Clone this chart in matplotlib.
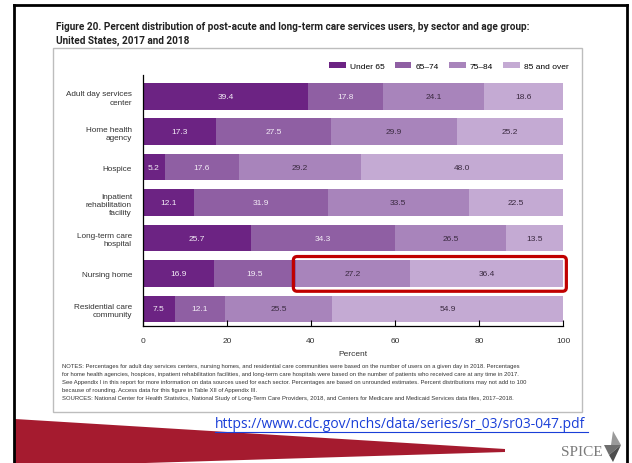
import matplotlib
matplotlib.use("Agg")
import matplotlib.pyplot as plt
from matplotlib.patches import Polygon, Rectangle, FancyBboxPatch

W, H = 632, 464

# data
categories = ["Adult day services\ncenter", "Home health\nagency", "Hospice",
              "Inpatient\nrehabilitation\nfacility", "Long-term care\nhospital",
              "Nursing home", "Residential care\ncommunity"]
age_groups = ["Under 65", "65\u201374", "75\u201384", "85 and over"]
under_65 = [39.4, 17.3, 5.2, 12.1, 25.7, 16.9, 7.5]
age_65_74 = [17.8, 27.5, 17.6, 31.9, 34.3, 19.5, 12.1]
age_75_84 = [24.1, 29.9, 29.2, 33.5, 26.5, 27.2, 25.5]
age_85_up = [18.6, 25.2, 48.0, 22.5, 13.5, 36.4, 54.9]
x_ticks = [0, 20, 40, 60, 80, 100]

title = ("Figure 20. Percent distribution of post-acute and long-term care services users, by sector and age group:\n"
         "United States, 2017 and 2018")
notes = [
    "NOTES: Percentages for adult day services centers, nursing homes, and residential care communities were based on the number of users on a given day in 2018. Percentages",
    "for home health agencies, hospices, inpatient rehabilitation facilities, and long-term care hospitals were based on the number of patients who received care at any time in 2017.",
    "See Appendix I in this report for more information on data sources used for each sector. Percentages are based on unrounded estimates. Percent distributions may not add to 100",
    "because of rounding. Access data for this figure in Table XII of Appendix III.",
    "SOURCES: National Center for Health Statistics, National Study of Long-Term Care Providers, 2018, and Centers for Medicare and Medicaid Services data files, 2017\u20132018.",
]
url = "https://www.cdc.gov/nchs/data/series/sr_03/sr03-047.pdf"

colors = ["#6c2383", "#8f5fa3", "#a884bb", "#c4aad3"]
label_colors = ["#f3ecf6", "#f3ecf6", "#3a2a40", "#3a2a40"]
sans = ["Liberation Sans", "DejaVu Sans"]

fig = plt.figure(figsize=(W / 100, H / 100), dpi=100)

# background layer in pixel coordinates
bg = fig.add_axes([0, 0, 1, 1], zorder=0)
bg.set_xlim(0, W)
bg.set_ylim(H, 0)
bg.axis("off")

# slide frame
bg.plot([14, 14], [6, H], color="black", lw=2)
bg.plot([14, 627], [6, 6], color="black", lw=2)
bg.plot([627, 627], [6, H], color="black", lw=2)

# figure box
bg.add_patch(Rectangle((53, 49), 529, 364, fill=False, ec="#bdbdbd", lw=1))

bg.text(56, 34, title, fontsize=7.2, fontweight="bold", color="#222222",
        family=["Roboto", "DejaVu Sans"], va="center", linespacing=1.4)

for i, line in enumerate(notes):
    bg.text(62, 367 + i * 8, line, fontsize=4.25, color="#333333", family=sans, va="center")

# red wedge
bg.add_patch(Polygon([(15, 420), (505, 450), (505, 453), (15, 468)], closed=True,
                     fc="#a51b2f", ec="none"))

bg.text(215, 425, url, fontsize=10, color="#1a3fd8", family=["Open Sans", "DejaVu Sans"],
        va="center")
bg.plot([215, 588], [433, 433], color="#1a3fd8", lw=0.8)

# SPICE logo
bg.text(561, 453, "SPICE", fontsize=11, color="#7b7b7b", family=["Liberation Serif", "DejaVu Serif"],
        va="center")
bg.add_patch(Polygon([(613, 432), (621, 446), (611, 446)], closed=True, fc="#9a9a9a", ec="none"))
bg.add_patch(Polygon([(604, 446), (621, 446), (609, 456)], closed=True, fc="#6e6e6e", ec="none"))
bg.add_patch(Polygon([(609, 456), (621, 446), (613, 463)], closed=True, fc="#4d4d4d", ec="none"))

# main chart
ax = fig.add_axes([143 / W, 1 - 327 / H, 420 / W, 251 / H], zorder=1)
ax.patch.set_alpha(0)
series = [under_65, age_65_74, age_75_84, age_85_up]
ypos = list(range(len(categories)))
left = [0.0] * len(categories)
for k, vals in enumerate(series):
    ax.barh(ypos, vals, left=left, height=0.75, color=colors[k], label=age_groups[k])
    for j, v in enumerate(vals):
        ax.text(left[j] + v / 2, j, f"{v:.1f}", ha="center", va="center",
                fontsize=6, color=label_colors[k], family=sans)
    left = [a + b for a, b in zip(left, vals)]

ax.set_xlim(0, 100)
ax.set_ylim(6.48, -0.6)
ax.set_yticks(ypos)
ax.set_yticklabels(categories, fontsize=5.9, family=sans, color="#333333", linespacing=1.25)
ax.tick_params(axis="y", length=0, pad=8)
ax.set_xticks(x_ticks)
ax.set_xticklabels([str(t) for t in x_ticks], fontsize=6, family=sans, color="#333333")
ax.tick_params(axis="x", direction="in", length=4, width=0.8, pad=8)
ax.set_xlabel("Percent", fontsize=6, family=sans, color="#333333", labelpad=4)
for s in ["top", "right"]:
    ax.spines[s].set_visible(False)
ax.spines["left"].set_linewidth(0.9)
ax.spines["bottom"].set_linewidth(0.9)

ax.legend(loc="lower right", bbox_to_anchor=(1.025, 1.0), ncol=4, frameon=False,
          prop={"family": sans, "size": 6}, handlelength=2.0, handleheight=0.8,
          columnspacing=1.2, handletextpad=0.5, borderaxespad=0.2)

# highlight box around nursing home 75+ groups
nh = categories.index("Nursing home")
x0 = under_65[nh] + age_65_74[nh]
ax.add_patch(FancyBboxPatch((x0 - 0.6, nh - 0.48), 100 - x0 + 1.4, 0.98,
                            boxstyle="round,pad=0,rounding_size=0.9",
                            fill=False, ec="#c00000", lw=2.3, clip_on=False,
                            mutation_aspect=0.12, zorder=5))

fig.savefig("out.png", dpi=100)
